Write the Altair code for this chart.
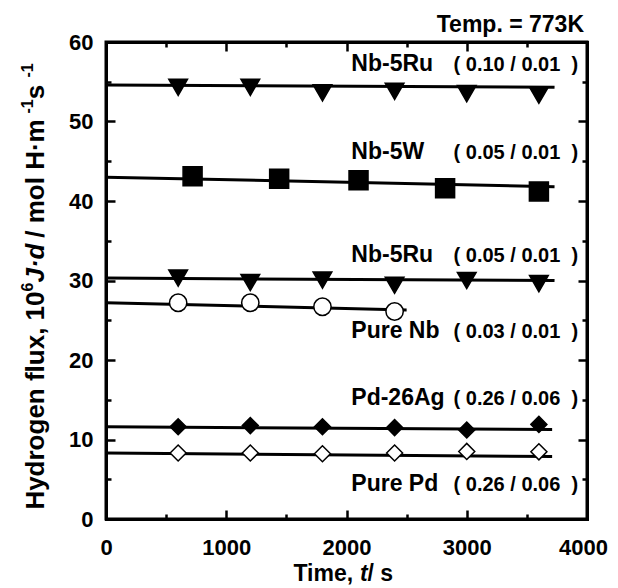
import altair as alt
import pandas as pd

# ---------------- data ----------------
times = [600, 1200, 1800, 2400, 3000, 3600]
nb5ru_010 = [54.3, 54.3, 53.6, 53.8, 53.5, 53.3]
nb5w_times = [720, 1440, 2100, 2820, 3600]
nb5w = [43.1, 42.8, 42.6, 41.6, 41.2]
nb5ru_005 = [30.3, 29.75, 30.05, 29.4, 30.0, 29.6]
purenb_times = [600, 1200, 1800, 2400]
purenb = [27.2, 27.2, 26.7, 26.1]
pd26ag = [11.6, 11.75, 11.6, 11.5, 11.2, 11.9]
purepd = [8.3, 8.3, 8.2, 8.3, 8.5, 8.45]

fit_series = ["Nb-5Ru 0.10", "Nb-5W", "Nb-5Ru 0.05", "Pure Nb", "Pd-26Ag", "Pure Pd"]
fit_t0 = [0, 0, 0, 0, 0, 0]
fit_v0 = [54.6, 43.0, 30.3, 27.2, 11.6, 8.3]
fit_t1 = [3730, 3730, 3730, 2500, 3710, 3710]
fit_v1 = [54.3, 41.8, 30.0, 26.3, 11.25, 7.85]

NB = "\u00a0"
label_names = ["Nb-5Ru", "Nb-5W", "Nb-5Ru", "Pure Nb", "Pd-26Ag", "Pure Pd"]
label_params = ["( 0.10 / 0.01", "( 0.05 / 0.01", "( 0.05 / 0.01",
                "( 0.03 / 0.01", "( 0.26 / 0.06", "( 0.26 / 0.06"]
label_params = [p + NB * 2 + ")" for p in label_params]
label_v = [56.3, 45.3, 32.3, 22.8, 14.3, 3.5]

x_ticks = [0, 1000, 2000, 3000, 4000]
y_ticks = [0, 10, 20, 30, 40, 50, 60]
x_minor = [500, 1500, 2500, 3500]
y_minor = [5, 15, 25, 35, 45, 55]

# ---------------- layout / style ----------------
FONT = "Liberation Sans"
W, H = 481, 477
xs = alt.Scale(domain=[0, 4000], nice=False, zero=False)
ys = alt.Scale(domain=[0, 60], nice=False, zero=False)

lab_common = dict(ticks=False, tickSize=0, domain=False, grid=False, labelFont=FONT,
                  labelFontSize=22, labelFontWeight="bold", labelColor="black",
                  labelFlush=False, format="d", title=None)
x_axis = alt.Axis(values=x_ticks, labelPadding=18, orient="bottom",
                  labelOffset={"condition": {"test": "datum.value == 4000", "value": -4}, "value": 0},
                  **lab_common)
y_axis = alt.Axis(values=y_ticks, labelPadding=13, orient="left", **lab_common)


def tick_axis(orient, vals, length, domain):
    return alt.Axis(orient=orient, values=vals, labels=False, grid=False, title=None,
                    ticks=True, tickSize=alt.ExprRef(expr=str(-length)), tickWidth=2.5,
                    tickColor="black", domain=domain, domainWidth=3, domainColor="black",
                    domainCap="square")


fit_df = pd.DataFrame({"series": fit_series, "t0": fit_t0, "v0": fit_v0, "t1": fit_t1, "v1": fit_v1})

layers = []

# fitted lines (carry the labelled axes)
layers.append(
    alt.Chart(fit_df).mark_rule(color="black", strokeWidth=3).encode(
        x=alt.X("t0:Q", scale=xs, axis=x_axis), x2="t1:Q",
        y=alt.Y("v0:Q", scale=ys, axis=y_axis), y2="v1:Q")
)

# invisible layers carrying the frame and the inward ticks on all four sides
for xo, yo in (("bottom", "left"), ("top", "right")):
    layers.append(
        alt.Chart(fit_df).mark_rule(opacity=0).encode(
            x=alt.X("t0:Q", scale=xs, axis=tick_axis(xo, x_ticks, 9, True)),
            y=alt.Y("v0:Q", scale=ys, axis=tick_axis(yo, y_ticks, 9, True)))
    )
    layers.append(
        alt.Chart(fit_df).mark_rule(opacity=0).encode(
            x=alt.X("t0:Q", scale=xs, axis=tick_axis(xo, x_minor, 5, False)),
            y=alt.Y("v0:Q", scale=ys, axis=tick_axis(yo, y_minor, 5, False)))
    )


def pts(tt, vv, shape, fill, size):
    df = pd.DataFrame({"t": tt, "v": vv})
    return alt.Chart(df).mark_point(shape=shape, filled=True, fill=fill, stroke="black",
                                    strokeWidth=1.5, size=size, opacity=1, fillOpacity=1).encode(
        x=alt.X("t:Q", scale=xs, axis=None), y=alt.Y("v:Q", scale=ys, axis=None))


layers += [
    pts(times, nb5ru_010, "triangle-down", "black", 350),
    pts(nb5w_times, nb5w, "square", "black", 361),
    pts(times, nb5ru_005, "triangle-down", "black", 350),
    pts(purenb_times, purenb, "circle", "white", 300),
    pts(times, pd26ag, "diamond", "black", 256),
    pts(times, purepd, "diamond", "white", 256),
]

one = pd.DataFrame({"a": [0]})

# series labels
lab_df = pd.DataFrame({"name": label_names, "param": label_params, "v": label_v})
layers.append(
    alt.Chart(lab_df).mark_text(align="left", baseline="alphabetic", font=FONT, fontSize=23,
                                fontWeight="bold", color="black").encode(
        x=alt.XDatum(2040, scale=xs, axis=None), y=alt.Y("v:Q", scale=ys, axis=None),
        text="name:N")
)
layers.append(
    alt.Chart(lab_df).mark_text(align="right", baseline="alphabetic", font=FONT, fontSize=20,
                                fontWeight="bold", color="black").encode(
        x=alt.XDatum(3926, scale=xs, axis=None), y=alt.Y("v:Q", scale=ys, axis=None),
        text="param:N")
)

layers.append(
    alt.Chart(one).mark_text(text="Temp. = 773K", align="right", baseline="alphabetic", font=FONT,
                             fontSize=23, fontWeight="bold", color="black").encode(
        x=alt.value(W - 3), y=alt.value(-10))
)

# ---- axis titles built from segments (italic parts / superscripts) ----
AB = {' ': 278, NB: 278, ',': 278, '.': 278, '/': 278, '-': 333, '·': 278,
      'H': 722, 'J': 556, 'T': 611, 'y': 556, 'd': 611, 'r': 389, 'o': 611, 'g': 611,
      'e': 556, 'n': 611, 'f': 333, 'l': 278, 'u': 611, 'x': 556, 'm': 889, 's': 556,
      'i': 278, 't': 333}


def tw(s, fs):
    return sum(AB.get(c, 556) for c in s) * fs / 1000.0


def seg_layer(text, fs, italic, px, py, angle):
    mk = dict(text=text, align="left", baseline="alphabetic", font=FONT, fontSize=fs,
              fontWeight="bold", color="black")
    if italic:
        mk["fontStyle"] = "italic"
    if angle:
        mk["angle"] = angle
    return alt.Chart(one).mark_text(**mk).encode(x=alt.value(px), y=alt.value(py))


FT, FS = 26, 16
ysegs = [("Hydrogen flux, 10", FT, False, 0), ("6", FS, False, 1), (NB + "J·d", FT, True, 0),
         (NB + "/ mol H·m", FT, False, 0), ("-1", FS, False, 1), (NB + "s", FT, False, 0),
         ("-1", FS, False, 1)]
total = sum(tw(s, f) for s, f, _, _ in ysegs)
ystart = H / 2 + 6 + total / 2
base_x = -62
cum = 0.0
for s, f, it, up in ysegs:
    layers.append(seg_layer(s, f, it, base_x - up * 11, ystart - cum, 270))
    cum += tw(s, f)

xsegs = [("Time," + NB, 23, False), ("t", 23, True), (NB + "/ s", 23, False)]
xtotal = sum(tw(s, f) for s, f, _ in xsegs)
xstart = W / 2 - xtotal / 2
cum = 0.0
for s, f, it in xsegs:
    layers.append(seg_layer(s, f, it, xstart + cum, H + 62, 0))
    cum += tw(s, f)

chart = alt.layer(*layers).properties(
    width=W, height=H,
    background="white",
    autosize=alt.AutoSizeParams(type="none"),
    padding={"left": 98, "top": 34, "right": 23, "bottom": 66},
).resolve_axis(x="independent", y="independent").configure_view(stroke="black", strokeWidth=3)

chart.save("out.html", embed_options={"renderer": "svg", "actions": False})
